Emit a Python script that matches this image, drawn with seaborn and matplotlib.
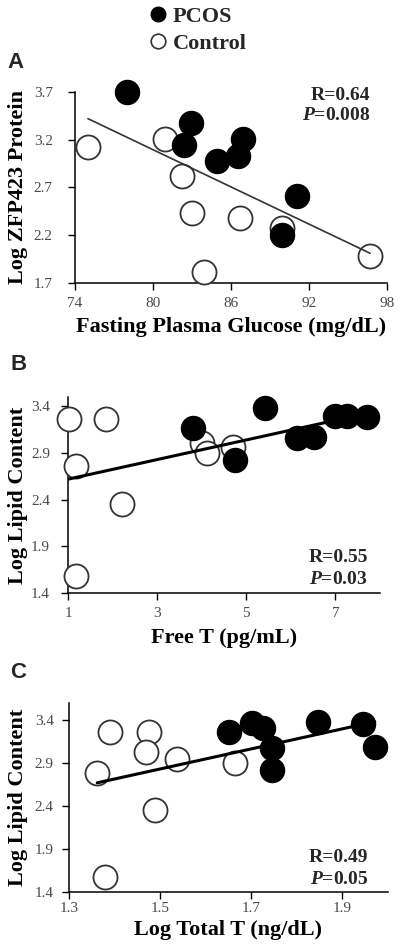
import numpy as np
import pandas as pd
import matplotlib
matplotlib.use("Agg")
import matplotlib.pyplot as plt
import seaborn as sns
from matplotlib.lines import Line2D

# ---------------- data ----------------
# Panel A: fasting plasma glucose vs log ZFP423 protein
a_pcos_x = [78.0, 82.9, 82.4, 84.9, 86.5, 86.9, 91.1, 89.9]
a_pcos_y = [3.70, 3.38, 3.14, 2.98, 3.03, 3.21, 2.61, 2.20]
a_ctrl_x = [75.0, 80.9, 82.2, 83.0, 86.7, 89.9, 83.9, 96.7]
a_ctrl_y = [3.12, 3.21, 2.82, 2.43, 2.38, 2.28, 1.81, 1.98]

# Panel B: free T vs log lipid content
b_pcos_x = [3.80, 5.43, 4.75, 6.14, 6.51, 7.00, 7.26, 7.71]
b_pcos_y = [3.17, 3.38, 2.82, 3.06, 3.07, 3.30, 3.30, 3.29]
b_ctrl_x = [1.02, 1.85, 1.19, 2.22, 1.19, 4.00, 4.11, 4.71]
b_ctrl_y = [3.26, 3.26, 2.76, 2.35, 1.58, 3.01, 2.90, 2.96]

# Panel C: log total T vs log lipid content
c_pcos_x = [1.652, 1.701, 1.726, 1.746, 1.746, 1.847, 1.946, 1.971]
c_pcos_y = [3.26, 3.37, 3.31, 3.08, 2.82, 3.38, 3.35, 3.09]
c_ctrl_x = [1.362, 1.389, 1.476, 1.468, 1.538, 1.665, 1.489, 1.380]
c_ctrl_y = [2.78, 3.26, 3.26, 3.03, 2.95, 2.90, 2.35, 1.58]

a_xticks = [74, 80, 86, 92, 98]
a_yticks = [1.7, 2.2, 2.7, 3.2, 3.7]
b_xticks = [1, 3, 5, 7]
b_yticks = [1.4, 1.9, 2.4, 2.9, 3.4]
c_xticks = [1.3, 1.5, 1.7, 1.9]
c_yticks = [1.4, 1.9, 2.4, 2.9, 3.4]

stats_a = ("R=0.64", "0.008")
stats_b = ("R=0.55", "0.03")
stats_c = ("R=0.49", "0.05")

group_labels = ["PCOS", "Control"]

# ---------------- style ----------------
sns.set_style("white")
plt.rcParams["font.family"] = ["Liberation Serif", "DejaVu Serif"]
plt.rcParams["mathtext.fontset"] = "custom"
plt.rcParams["mathtext.bfit"] = "Liberation Serif:bold:italic"
plt.rcParams["mathtext.it"] = "Liberation Serif:italic"
plt.rcParams["mathtext.bf"] = "Liberation Serif:bold"
plt.rcParams["mathtext.rm"] = "Liberation Serif"

fig = plt.figure(figsize=(4.0, 9.51), dpi=100)

W, H = 400.0, 951.0
def add_ax(left, top, right, bottom):
    return fig.add_axes([left / W, 1 - bottom / H, (right - left) / W, (bottom - top) / H])

axA = add_ax(75, 92, 387, 283)
axB = add_ax(68, 397, 380, 593)
axC = add_ax(69, 703, 388, 892)

MS = 300
TICKCOL = "#4a4a4a"

def panel(ax, px, py, cx, cy, xlim, ylim, xticks, yticks, xlabel, ylabel,
          line_kw, stats, stat_pix, xlab_y, ylab_x, ytick_pad, xtick_pad):
    dfc = pd.DataFrame({"x": cx, "y": cy})
    dfp = pd.DataFrame({"x": px, "y": py})
    dfall = pd.concat([dfp, dfc], ignore_index=True)
    sns.scatterplot(data=dfc, x="x", y="y", ax=ax, s=MS, facecolor="white",
                    edgecolor="#333333", linewidth=1.3, clip_on=False, zorder=3)
    sns.scatterplot(data=dfp, x="x", y="y", ax=ax, s=MS, color="black",
                    edgecolor="black", linewidth=1.0, clip_on=False, zorder=4)
    sns.regplot(data=dfall, x="x", y="y", ax=ax, scatter=False, ci=None,
                line_kws=dict(zorder=5, **line_kw))
    ax.set_xlim(*xlim)
    ax.set_ylim(*ylim)
    ax.set_xticks(xticks)
    ax.set_yticks(yticks)
    ax.set_xticklabels([f"{t:g}" for t in xticks])
    ax.set_yticklabels([f"{t:.1f}" for t in yticks])
    for s in ["top", "right"]:
        ax.spines[s].set_visible(False)
    for s in ["left", "bottom"]:
        ax.spines[s].set_color("black")
        ax.spines[s].set_linewidth(1.1)
    ax.tick_params(axis="both", direction="out", length=5, width=1.0,
                   color="black", labelcolor=TICKCOL, labelsize=11)
    ax.tick_params(axis="y", pad=ytick_pad, left=True)
    ax.tick_params(axis="x", pad=xtick_pad, bottom=True)
    ax.set_xlabel(xlabel, fontsize=16, fontweight="bold", color="black")
    ax.set_ylabel(ylabel, fontsize=16, fontweight="bold", color="black")
    ax.xaxis.set_label_coords(0.5, xlab_y)
    ax.yaxis.set_label_coords(ylab_x, 0.5)
    xr, yr, yp = stat_pix
    fig.text(xr / W, 1 - yr / H, stats[0], ha="right", va="center",
             fontsize=14, fontweight="bold")
    fig.text(xr / W, 1 - yp / H, r"$\bfit{P}$" + "=" + stats[1],
             ha="right", va="center", fontsize=14, fontweight="bold")

panel(axA, a_pcos_x, a_pcos_y, a_ctrl_x, a_ctrl_y, (74, 98), (1.7, 3.7),
      a_xticks, a_yticks, "Fasting Plasma Glucose (mg/dL)", "Log ZFP423 Protein",
      dict(color="#333333", linewidth=1.2), stats_a, (370, 96, 115),
      -0.18, -0.15, 11, 5)
panel(axB, b_pcos_x, b_pcos_y, b_ctrl_x, b_ctrl_y, (1, 8), (1.4, 3.5),
      b_xticks, b_yticks, "Free T (pg/mL)", "Log Lipid Content",
      dict(color="black", linewidth=2.2), stats_b, (368, 557, 579),
      -0.18, -0.128, 8, 5)
panel(axC, c_pcos_x, c_pcos_y, c_ctrl_x, c_ctrl_y, (1.3, 2.0), (1.4, 3.6),
      c_xticks, c_yticks, "Log Total T (ng/dL)", "Log Lipid Content",
      dict(color="black", linewidth=2.2), stats_c, (368, 857, 880),
      -0.15, -0.128, 6, 2)

# panel letters
for lab, (x, y) in zip(["A", "B", "C"], [(7, 63), (10, 365), (10, 673)]):
    fig.text(x / W, 1 - y / H, lab, fontsize=16, fontweight="bold",
             family=["Liberation Sans", "DejaVu Sans"], ha="left", va="center")

# legend
handles = [
    Line2D([], [], marker="o", linestyle="none", markersize=10.5,
           markerfacecolor="black", markeredgecolor="black"),
    Line2D([], [], marker="o", linestyle="none", markersize=10.5,
           markerfacecolor="white", markeredgecolor="#333333", markeredgewidth=1.2),
]
fig.legend(handles, group_labels, loc="upper left",
           bbox_to_anchor=(147 / W, 1 - 6 / H), frameon=False,
           prop=dict(family="Liberation Serif", weight="bold", size=16),
           handletextpad=0.15, labelspacing=0.3, handlelength=1.0,
           borderpad=0.0, borderaxespad=0.0)

fig.savefig("out.png", dpi=100)
